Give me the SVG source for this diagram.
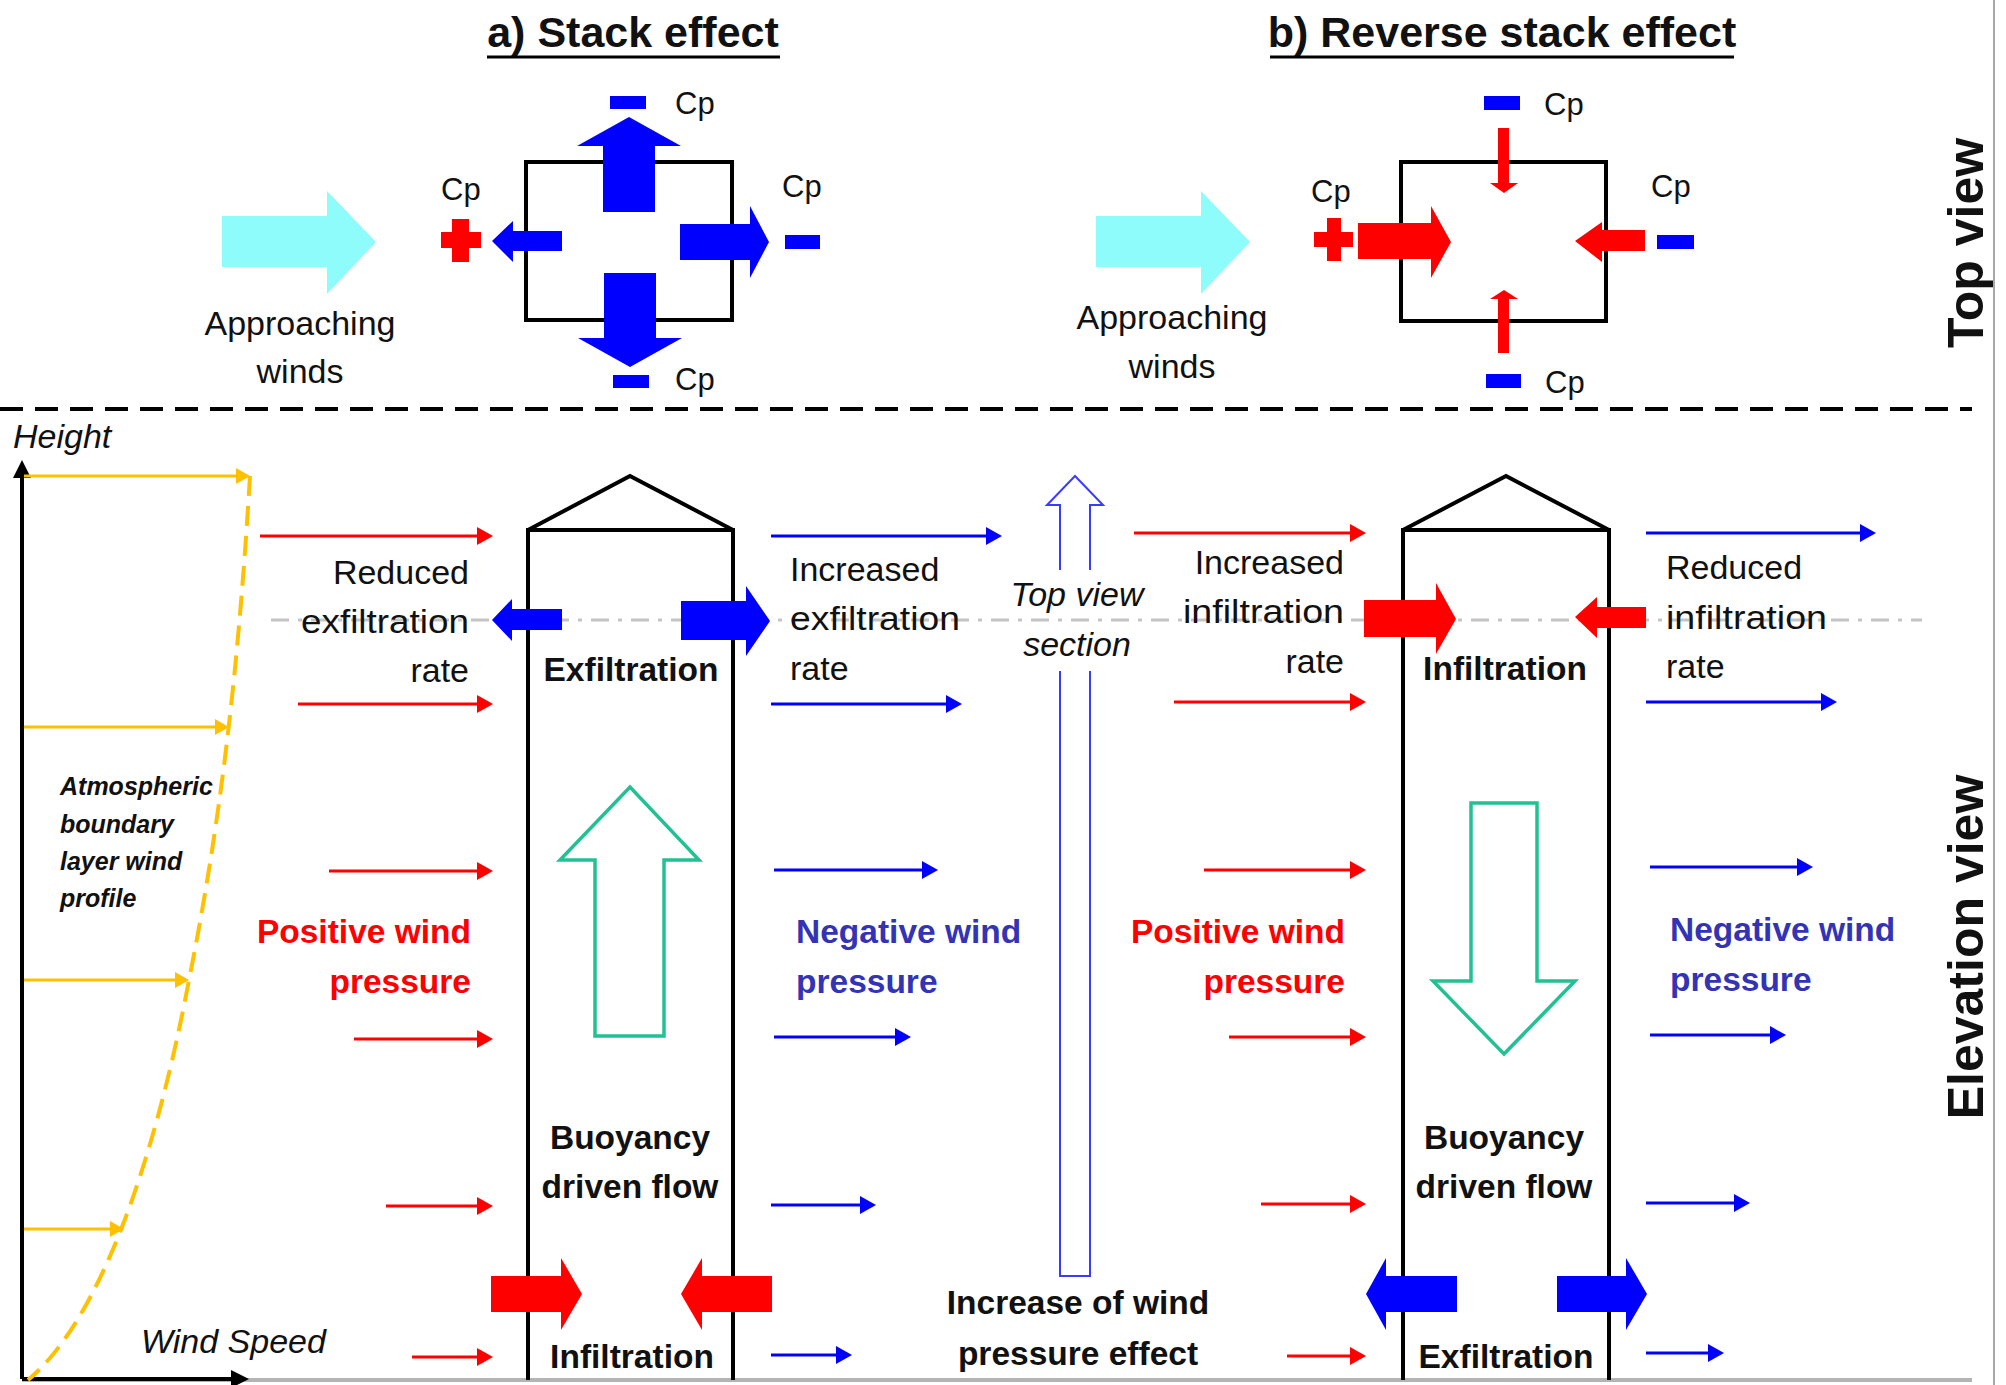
<svg xmlns="http://www.w3.org/2000/svg" width="2006" height="1385" viewBox="0 0 2006 1385">
<style>
text{font-family:"Liberation Sans",Arial,sans-serif;fill:#111}
.reg{font-size:34px}
.b{font-size:33.5px;font-weight:bold}
.it{font-size:34px;font-style:italic}
.cp{font-size:31px}
.title{font-size:43px;font-weight:bold}
.side{font-size:50px;font-weight:bold}
.atm{font-size:25px;font-weight:bold;font-style:italic}
.red{fill:#ff0000}
.nblue{fill:#3333b5}
.wall{fill:none;stroke:#000;stroke-width:4;stroke-linejoin:miter}
.rw{stroke:#ff0000;stroke-width:3;fill:none}
.bw{stroke:#0000ff;stroke-width:3;fill:none}
.yw{stroke:#ffc000;stroke-width:3;fill:none}
.fr{fill:#ff0000}
.fb{fill:#0000ff}
.cy{fill:#8ffcfc}
.green{fill:none;stroke:#22c193;stroke-width:3.5}
</style>
<defs>
<marker id="mr" viewBox="0 0 16 18" markerWidth="16" markerHeight="18" refX="6" refY="9" orient="auto" markerUnits="userSpaceOnUse"><path d="M0,0 L16,9 L0,18 z" fill="#ff0000"/></marker>
<marker id="mb" viewBox="0 0 16 18" markerWidth="16" markerHeight="18" refX="6" refY="9" orient="auto" markerUnits="userSpaceOnUse"><path d="M0,0 L16,9 L0,18 z" fill="#0000ff"/></marker>
<marker id="my" viewBox="0 0 14 16" markerWidth="14" markerHeight="16" refX="5" refY="8" orient="auto" markerUnits="userSpaceOnUse"><path d="M0,0 L14,8 L0,16 z" fill="#ffc000"/></marker>
<marker id="mk" viewBox="0 0 18 18" markerWidth="18" markerHeight="18" refX="6" refY="9" orient="auto" markerUnits="userSpaceOnUse"><path d="M0,0 L18,9 L0,18 z" fill="#000"/></marker>
</defs>
<rect width="2006" height="1385" fill="#fff"/>

<!-- frame lines -->
<g id="frame">
<line x1="1994" y1="0" x2="1994" y2="1385" stroke="#a8a8a8" stroke-width="2"/>
<line x1="22" y1="1380" x2="1972" y2="1380" stroke="#b4b4b4" stroke-width="4"/>
<line x1="0" y1="409" x2="1972" y2="409" stroke="#000" stroke-width="4" stroke-dasharray="23 12"/>
</g>

<!-- titles -->
<g id="title-a">
<text class="title" x="633" y="47" text-anchor="middle">a) Stack effect</text>
<line x1="487" y1="57" x2="780" y2="57" stroke="#000" stroke-width="3"/>
</g>
<g id="title-b">
<text class="title" x="1502" y="47" text-anchor="middle">b) Reverse stack effect</text>
<line x1="1270" y1="57" x2="1734" y2="57" stroke="#000" stroke-width="3"/>
</g>
<g id="label-topview"><text class="side" transform="translate(1983,243) rotate(-90)" text-anchor="middle">Top view</text></g>
<g id="label-elevation"><text class="side" transform="translate(1983,947) rotate(-90)" text-anchor="middle">Elevation view</text></g>

<!-- top view a -->
<g id="topview-a">
<polygon class="cy" points="222,216 327,216 327,191 376,242 327,294 327,267 222,267"/>
<text class="reg" x="300" y="335" text-anchor="middle">Approaching</text>
<text class="reg" x="300" y="383" text-anchor="middle">winds</text>
<rect x="526" y="162" width="206" height="158" class="wall"/>
<polygon class="fb" points="603,212 603,146 577,146 629,117 681,146 655,146 655,212"/>
<polygon class="fb" points="604,273 656,273 656,338 682,338 630,367 578,338 604,338"/>
<polygon class="fb" points="562,231 513,231 513,221 492,241 513,262 513,251 562,251"/>
<polygon class="fb" points="680,224 750,224 750,206 769,242 750,278 750,260 680,260"/>
<rect class="fb" x="610" y="96" width="36" height="13"/>
<rect class="fb" x="613" y="375" width="36" height="13"/>
<rect class="fb" x="785" y="235" width="35" height="14"/>
<rect class="fr" x="441" y="232" width="40" height="16"/>
<rect class="fr" x="452" y="219" width="17" height="43"/>
<text class="cp" x="675" y="114">Cp</text>
<text class="cp" x="441" y="200">Cp</text>
<text class="cp" x="782" y="197">Cp</text>
<text class="cp" x="675" y="390">Cp</text>
</g>

<!-- top view b -->
<g id="topview-b">
<polygon class="cy" points="1096,216 1201,216 1201,191 1250,242 1201,294 1201,267 1096,267"/>
<text class="reg" x="1172" y="329" text-anchor="middle">Approaching</text>
<text class="reg" x="1172" y="378" text-anchor="middle">winds</text>
<rect x="1401" y="162" width="205" height="159" class="wall"/>
<polygon class="fr" points="1358,223 1431,223 1431,206 1451,242 1431,278 1431,259 1358,259"/>
<polygon class="fr" points="1645,230 1602,230 1602,222 1575,241 1602,262 1602,251 1645,251"/>
<polygon class="fr" points="1498,128 1509,128 1509,183 1518,183 1504,193 1490,183 1498,183"/>
<polygon class="fr" points="1498,353 1509,353 1509,299 1518,299 1504,290 1490,299 1498,299"/>
<rect class="fr" x="1314" y="232" width="39" height="15"/>
<rect class="fr" x="1327" y="218" width="14" height="43"/>
<rect class="fb" x="1484" y="96" width="36" height="14"/>
<rect class="fb" x="1486" y="374" width="35" height="14"/>
<rect class="fb" x="1657" y="235" width="37" height="14"/>
<text class="cp" x="1544" y="115">Cp</text>
<text class="cp" x="1311" y="202">Cp</text>
<text class="cp" x="1651" y="197">Cp</text>
<text class="cp" x="1545" y="393">Cp</text>
</g>

<!-- wind profile -->
<g id="wind-profile">
<line x1="22" y1="1379" x2="22" y2="472" stroke="#000" stroke-width="4" marker-end="url(#mk)"/>
<line x1="22" y1="1379" x2="237" y2="1379" stroke="#000" stroke-width="4" marker-end="url(#mk)"/>
<path d="M250,476 C240,640 225,800 189,980 C155,1160 100,1320 28,1380" fill="none" stroke="#ffc000" stroke-width="4" stroke-dasharray="20 10"/>
<line class="yw" x1="24" y1="476" x2="241" y2="476" marker-end="url(#my)"/>
<line class="yw" x1="24" y1="727" x2="220" y2="727" marker-end="url(#my)"/>
<line class="yw" x1="24" y1="980" x2="180" y2="980" marker-end="url(#my)"/>
<line class="yw" x1="24" y1="1229" x2="115" y2="1229" marker-end="url(#my)"/>
<text class="it" x="13" y="448">Height</text>
<text class="it" x="141" y="1353">Wind Speed</text>
<text class="atm" x="60" y="795">Atmospheric</text>
<text class="atm" x="60" y="833">boundary</text>
<text class="atm" x="60" y="870">layer wind</text>
<text class="atm" x="60" y="907">profile</text>
</g>

<!-- section line -->
<g id="section-line">
<line x1="271" y1="620" x2="1922" y2="620" stroke="#c4c4c4" stroke-width="3" stroke-dasharray="18 9 4 9"/>
</g>

<!-- connectors: wind arrows -->
<g id="connectors">
<line class="rw" x1="260" y1="536" x2="483" y2="536" marker-end="url(#mr)"/>
<line class="rw" x1="298" y1="704" x2="483" y2="704" marker-end="url(#mr)"/>
<line class="rw" x1="329" y1="871" x2="483" y2="871" marker-end="url(#mr)"/>
<line class="rw" x1="354" y1="1039" x2="483" y2="1039" marker-end="url(#mr)"/>
<line class="rw" x1="386" y1="1206" x2="483" y2="1206" marker-end="url(#mr)"/>
<line class="rw" x1="412" y1="1357" x2="483" y2="1357" marker-end="url(#mr)"/>
<line class="bw" x1="771" y1="536" x2="992" y2="536" marker-end="url(#mb)"/>
<line class="bw" x1="771" y1="704" x2="952" y2="704" marker-end="url(#mb)"/>
<line class="bw" x1="774" y1="870" x2="928" y2="870" marker-end="url(#mb)"/>
<line class="bw" x1="774" y1="1037" x2="901" y2="1037" marker-end="url(#mb)"/>
<line class="bw" x1="771" y1="1205" x2="866" y2="1205" marker-end="url(#mb)"/>
<line class="bw" x1="771" y1="1355" x2="842" y2="1355" marker-end="url(#mb)"/>
<line class="rw" x1="1134" y1="533" x2="1356" y2="533" marker-end="url(#mr)"/>
<line class="rw" x1="1174" y1="702" x2="1356" y2="702" marker-end="url(#mr)"/>
<line class="rw" x1="1204" y1="870" x2="1356" y2="870" marker-end="url(#mr)"/>
<line class="rw" x1="1229" y1="1037" x2="1356" y2="1037" marker-end="url(#mr)"/>
<line class="rw" x1="1261" y1="1204" x2="1356" y2="1204" marker-end="url(#mr)"/>
<line class="rw" x1="1287" y1="1356" x2="1356" y2="1356" marker-end="url(#mr)"/>
<line class="bw" x1="1646" y1="533" x2="1866" y2="533" marker-end="url(#mb)"/>
<line class="bw" x1="1646" y1="702" x2="1827" y2="702" marker-end="url(#mb)"/>
<line class="bw" x1="1650" y1="867" x2="1803" y2="867" marker-end="url(#mb)"/>
<line class="bw" x1="1650" y1="1035" x2="1776" y2="1035" marker-end="url(#mb)"/>
<line class="bw" x1="1646" y1="1203" x2="1740" y2="1203" marker-end="url(#mb)"/>
<line class="bw" x1="1646" y1="1353" x2="1714" y2="1353" marker-end="url(#mb)"/>
</g>

<!-- building a -->
<g id="building-a">
<path class="wall" d="M528,1380 V530 H733 V1380"/>
<path class="wall" d="M528,530 L630,476 L733,530"/>
<polygon class="green" points="595,1036 595,860 560,860 630,787 699,860 664,860 664,1036"/>
<polygon class="fb" points="562,609 512,609 512,599 492,620 512,641 512,630 562,630"/>
<polygon class="fb" points="681,601 746,601 746,586 770,621 746,656 746,640 681,640"/>
<polygon class="fr" points="491,1276 561,1276 561,1258 582,1294 561,1330 561,1312 491,1312"/>
<polygon class="fr" points="772,1276 702,1276 702,1258 681,1294 702,1330 702,1312 772,1312"/>
<text class="b" x="631" y="681" text-anchor="middle">Exfiltration</text>
<text class="b" x="630" y="1149" text-anchor="middle">Buoyancy</text>
<text class="b" x="630" y="1198" text-anchor="middle">driven flow</text>
<text class="b" x="632" y="1368" text-anchor="middle">Infiltration</text>
</g>

<!-- building b -->
<g id="building-b">
<path class="wall" d="M1403,1380 V530 H1609 V1380"/>
<path class="wall" d="M1403,530 L1506,476 L1609,530"/>
<polygon class="green" points="1471,803 1537,803 1537,981 1575,981 1504,1054 1433,981 1471,981"/>
<polygon class="fr" points="1364,600 1436,600 1436,583 1456,619 1436,654 1436,637 1364,637"/>
<polygon class="fr" points="1646,607 1597,607 1597,597 1575,617 1597,638 1597,628 1646,628"/>
<polygon class="fb" points="1457,1276 1386,1276 1386,1258 1366,1294 1386,1330 1386,1312 1457,1312"/>
<polygon class="fb" points="1557,1276 1626,1276 1626,1258 1647,1294 1626,1330 1626,1312 1557,1312"/>
<text class="b" x="1505" y="680" text-anchor="middle">Infiltration</text>
<text class="b" x="1504" y="1149" text-anchor="middle">Buoyancy</text>
<text class="b" x="1504" y="1198" text-anchor="middle">driven flow</text>
<text class="b" x="1506" y="1368" text-anchor="middle">Exfiltration</text>
</g>

<!-- middle hollow arrow -->
<g id="section-arrow">
<path d="M1060,570 V505 H1047 L1075,476 L1103,505 H1090 V570" fill="none" stroke="#3b3bff" stroke-width="2"/>
<path d="M1060,671 V1276 H1090 V671" fill="none" stroke="#3b3bff" stroke-width="2"/>
<text class="it" x="1077" y="606" text-anchor="middle">Top view</text>
<text class="it" x="1077" y="656" text-anchor="middle">section</text>
</g>

<!-- side labels -->
<g id="labels-a-left">
<text class="reg" x="469" y="584" text-anchor="end">Reduced</text>
<text class="reg" x="469" y="633" text-anchor="end" textLength="168" lengthAdjust="spacingAndGlyphs">exfiltration</text>
<text class="reg" x="469" y="682" text-anchor="end">rate</text>
<text class="b red" x="471" y="943" text-anchor="end">Positive wind</text>
<text class="b red" x="471" y="993" text-anchor="end">pressure</text>
</g>
<g id="labels-a-right">
<text class="reg" x="790" y="581">Increased</text>
<text class="reg" x="790" y="630" textLength="170" lengthAdjust="spacingAndGlyphs">exfiltration</text>
<text class="reg" x="790" y="680">rate</text>
<text class="b nblue" x="796" y="943">Negative wind</text>
<text class="b nblue" x="796" y="993">pressure</text>
</g>
<g id="labels-b-left">
<text class="reg" x="1344" y="574" text-anchor="end">Increased</text>
<text class="reg" x="1344" y="623" text-anchor="end" textLength="161" lengthAdjust="spacingAndGlyphs">infiltration</text>
<text class="reg" x="1344" y="673" text-anchor="end">rate</text>
<text class="b red" x="1345" y="943" text-anchor="end">Positive wind</text>
<text class="b red" x="1345" y="993" text-anchor="end">pressure</text>
</g>
<g id="labels-b-right">
<text class="reg" x="1666" y="579">Reduced</text>
<text class="reg" x="1666" y="629" textLength="161" lengthAdjust="spacingAndGlyphs">infiltration</text>
<text class="reg" x="1666" y="678">rate</text>
<text class="b nblue" x="1670" y="941">Negative wind</text>
<text class="b nblue" x="1670" y="991">pressure</text>
</g>
<g id="label-increase">
<text class="b" x="1078" y="1314" text-anchor="middle">Increase of wind</text>
<text class="b" x="1078" y="1365" text-anchor="middle">pressure effect</text>
</g>
</svg>
